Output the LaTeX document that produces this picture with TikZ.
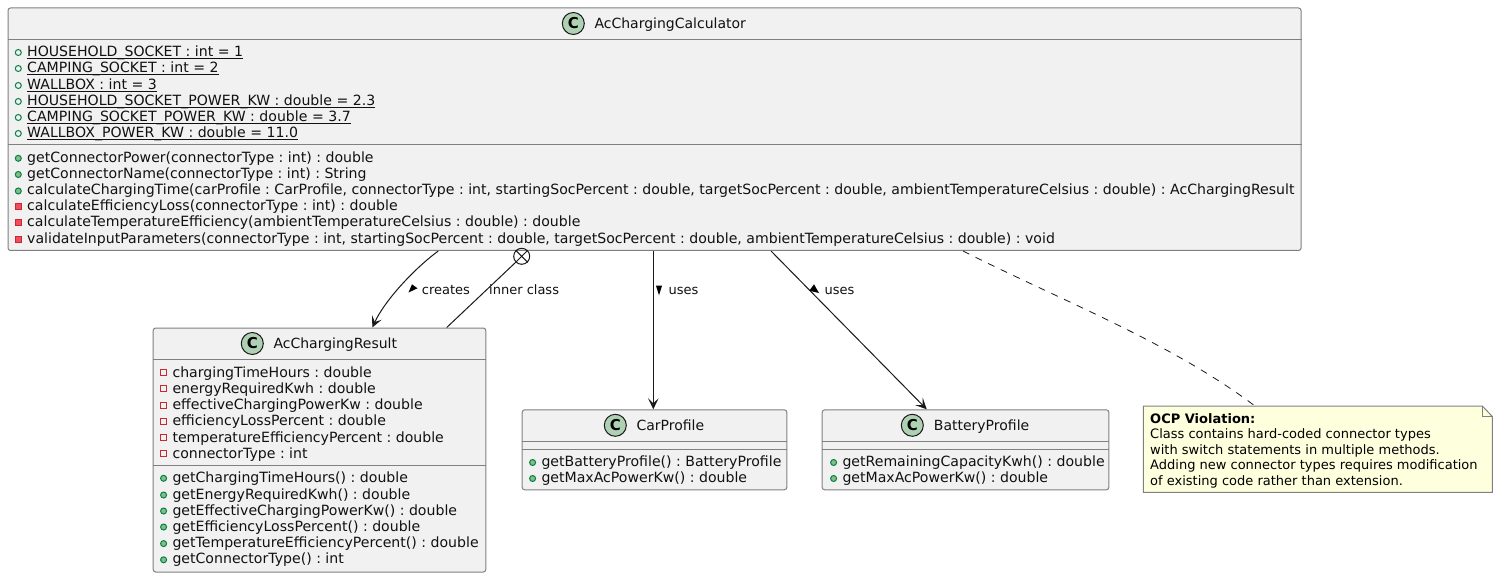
\documentclass[tikz,border=0pt]{standalone}
\usepackage{fontspec}
\setmainfont{DejaVu Sans}
\usetikzlibrary{arrows.meta,calc}
\definecolor{boxfill}{HTML}{F1F1F1}
\definecolor{boxline}{HTML}{808080}
\definecolor{notefill}{HTML}{FEFFDD}
\definecolor{spotfill}{HTML}{ADD1B2}
\definecolor{publine}{HTML}{038048}
\definecolor{pubfill}{HTML}{84BE84}
\definecolor{privline}{HTML}{C82930}
\definecolor{privfill}{HTML}{F24D5C}
\definecolor{inktext}{HTML}{111111}
\tikzset{
  classbox/.style={draw=boxline,fill=boxfill,line width=1pt,rounded corners=2.5pt,inner sep=0pt,anchor=north west},
  sepline/.style={draw=boxline,line width=1pt},
  spot/.style={circle,draw=black!90,fill=spotfill,line width=1pt,minimum size=22pt,inner sep=0pt,font=\fontsize{15}{15}\selectfont\bfseries},
  titletext/.style={anchor=base west,inner sep=0pt,font=\fontsize{14}{14}\selectfont\frenchspacing,text=inktext},
  membertext/.style={anchor=base west,inner sep=0pt,font=\fontsize{14.1}{14}\selectfont\frenchspacing,text=inktext},
  linktext/.style={anchor=base west,inner sep=0pt,font=\fontsize{13}{13}\selectfont\frenchspacing,text=inktext},
  notetext/.style={anchor=base west,inner sep=0pt,font=\fontsize{13}{13}\selectfont\frenchspacing,text=black},
  link/.style={draw=black!90,line width=1pt,-{Stealth[length=11pt,width=10.5pt,inset=5pt]}},
  plainlink/.style={draw=black!90,line width=1pt},
  dir/.style={fill=black,draw=none},
}
\newcount\mcnt
\newcommand{\ulbox}[1]{\mbox{\setbox0\hbox{#1}\rlap{\rule[-2.3pt]{\wd0}{0.8pt}}\box0}}
\newcommand{\umlclass}[9]{%
  \node[classbox,minimum width=#4pt,minimum height=#5pt] (#1) at (#2,#3) {};
  \draw[sepline] ($(#1.north west)+(0,#6)$) -- ($(#1.north east)+(0,#6)$);
  \draw[sepline] ($(#1.north west)+(0,#7)$) -- ($(#1.north east)+(0,#7)$);
  \node[spot] (#1spot) at (#8,#3+16) {C};
  \node[titletext] (#1title) at (#9,#3+21) {\umltitle};
}
\newcommand{\mtext}[3]{\global\advance\mcnt by 1 \node[membertext] (m\the\mcnt) at (#1,#2) {#3};}
\newcommand{\pubfield}[3]{\draw[publine,line width=1pt] (#1-8.7,#2-4) circle (3pt); \mtext{#1}{#2}{\ulbox{#3}}}
\newcommand{\pubmeth}[3]{\fill[pubfill] (#1-8.7,#2-4) circle (3pt); \draw[publine,line width=1pt] (#1-8.7,#2-4) circle (3pt); \mtext{#1}{#2}{#3}}
\newcommand{\privfield}[3]{\draw[privline,line width=1pt] (#1-12,#2-7.2) rectangle ++(6,6); \mtext{#1}{#2}{#3}}
\newcommand{\privmeth}[3]{\draw[privline,fill=privfill,line width=1pt] (#1-12,#2-7.2) rectangle ++(6,6); \mtext{#1}{#2}{#3}}
\begin{document}
\begin{tikzpicture}[x=1pt,y=-1pt]
\useasboundingbox (0,0) rectangle (1498,577);
\fill[white] (0,0) rectangle (1498,577);

% AcChargingCalculator
\def\umltitle{AcChargingCalculator}
\umlclass{calc}{7.5}{7.5}{1293}{242.5}{32}{137}{573.3}{594.3}
\pubfield{27}{56.5}{HOUSEHOLD\_SOCKET : int = 1}
\pubfield{27}{72.5}{CAMPING\_SOCKET : int = 2}
\pubfield{27}{89.5}{WALLBOX : int = 3}
\pubfield{27}{105.5}{HOUSEHOLD\_SOCKET\_POWER\_KW : double = 2.3}
\pubfield{27}{121.5}{CAMPING\_SOCKET\_POWER\_KW : double = 3.7}
\pubfield{27}{137.5}{WALLBOX\_POWER\_KW : double = 11.0}
\pubmeth{27}{162.3}{getConnectorPower(connectorType : int) : double}
\pubmeth{27}{178.5}{getConnectorName(connectorType : int) : String}
\pubmeth{27}{195}{calculateChargingTime(carProfile : CarProfile, connectorType : int, startingSocPercent : double, targetSocPercent : double, ambientTemperatureCelsius : double) : AcChargingResult}
\privmeth{27}{211}{calculateEfficiencyLoss(connectorType : int) : double}
\privmeth{27}{227}{calculateTemperatureEfficiency(ambientTemperatureCelsius : double) : double}
\privmeth{27}{243.3}{validateInputParameters(connectorType : int, startingSocPercent : double, targetSocPercent : double, ambientTemperatureCelsius : double) : void}

% AcChargingResult
\def\umltitle{AcChargingResult}
\umlclass{result}{152.7}{327.5}{332.6}{244}{32}{138}{252.3}{273.3}
\privfield{172.3}{377}{chargingTimeHours : double}
\privfield{172.3}{393}{energyRequiredKwh : double}
\privfield{172.3}{409.2}{effectiveChargingPowerKw : double}
\privfield{172.3}{425.4}{efficiencyLossPercent : double}
\privfield{172.3}{442}{temperatureEfficiencyPercent : double}
\privfield{172.3}{458}{connectorType : int}
\pubmeth{172.3}{482.3}{getChargingTimeHours() : double}
\pubmeth{172.3}{499}{getEnergyRequiredKwh() : double}
\pubmeth{172.3}{515}{getEffectiveChargingPowerKw() : double}
\pubmeth{172.3}{531}{getEfficiencyLossPercent() : double}
\pubmeth{172.3}{547.6}{getTemperatureEfficiencyPercent() : double}
\pubmeth{172.3}{563.8}{getConnectorType() : int}

% CarProfile
\def\umltitle{CarProfile}
\umlclass{car}{521.7}{409.3}{264.6}{80}{32}{40}{615.3}{636.3}
\pubmeth{541.3}{466.5}{getBatteryProfile() : BatteryProfile}
\pubmeth{541.3}{482.5}{getMaxAcPowerKw() : double}

% BatteryProfile
\def\umltitle{BatteryProfile}
\umlclass{batt}{821.7}{409.3}{286.6}{80}{32}{40}{912.3}{933.7}
\pubmeth{842.3}{466.5}{getRemainingCapacityKwh() : double}
\pubmeth{842.3}{482.5}{getMaxAcPowerKw() : double}

% Note
\coordinate (notenw) at (1143.3,406);
\coordinate (notefa) at (1482.3,406);
\coordinate (notefb) at (1492.3,416.5);
\coordinate (notese) at (1492.3,492.3);
\coordinate (notesw) at (1143.3,492.3);
\draw[boxline,fill=notefill,line width=1pt] (notenw) -- (notefa) -- (notefb) -- (notese) -- (notesw) -- cycle;
\draw[boxline,line width=1pt] (notefa) |- (notefb);
\node[notetext] (n0) at (1150,423.3) {\textbf{OCP Violation:}};
\node[notetext] (n1) at (1150,438.7) {Class contains hard-coded connector types};
\node[notetext] (n2) at (1150,454.2) {with switch statements in multiple methods.};
\node[notetext] (n3) at (1150,469.8) {Adding new connector types requires modification};
\node[notetext] (n4) at (1150,485.3) {of existing code rather than extension.};

% Connectors
\draw[link] ($(calc.south west)+(430.8,0)$) .. controls (415,268) and (385,300) .. ($(result.north west)+(219.6,0)$);
\node[circle,draw=black!90,line width=1pt,minimum size=16pt,inner sep=0pt] (nest) at (521.7,256.3) {};
\draw[plainlink] (nest.45) -- (nest.225) (nest.135) -- (nest.315);
\draw[plainlink] (nest.225) -- ($(result.north west)+(294,0)$);
\draw[link] ($(calc.south west)+(645.8,0)$) -- ($(car.north west)+(131.6,0)$);
\draw[link] ($(calc.south west)+(763.5,0)$) -- ($(batt.north west)+(105,0)$);
\draw[black!90,line width=.8pt,dash pattern=on 7pt off 7pt] ($(calc.south west)+(955.5,0)$) .. controls (1060,300) and (1170,342) .. (1255,406);

% Link labels
\node[linktext] (l1) at (421.7,294) {creates};
\fill[dir] (408.5,292.5) -- (417.5,288.3) -- (412,284.3) -- cycle;
\node[linktext] (l2) at (489,294) {inner class};
\node[linktext] (l3) at (668.3,294) {uses};
\fill[dir] (656,285.7) -- (662,285.7) -- (659,295.3) -- cycle;
\node[linktext] (l4) at (824.3,294) {uses};
\fill[dir] (809.3,290.7) -- (814,284.3) -- (819,293) -- cycle;
\end{tikzpicture}
\end{document}
